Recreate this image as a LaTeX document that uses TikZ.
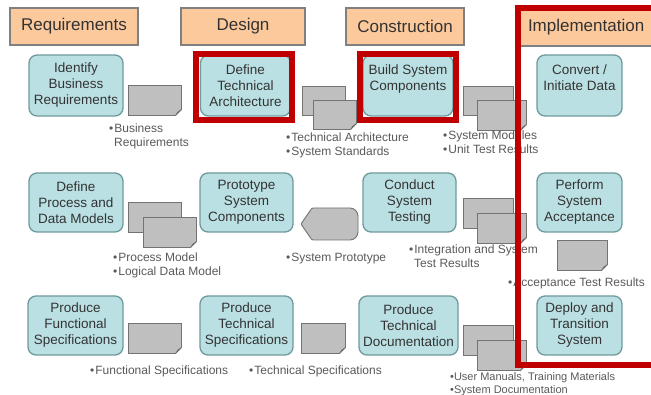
\documentclass[tikz,border=0pt]{standalone}
\usepackage{fontspec}
\setmainfont{Liberation Sans}
\definecolor{hdrfill}{HTML}{FBC99B}
\definecolor{hdrborder}{HTML}{808080}
\definecolor{taskfill}{HTML}{BBE0E3}
\definecolor{taskborder}{HTML}{6F9A9D}
\definecolor{docfill}{HTML}{BFBFBF}
\definecolor{docborder}{HTML}{737373}
\definecolor{foldfill}{HTML}{6A6A6A}
\definecolor{txt}{HTML}{333333}
\definecolor{notetxt}{HTML}{5A5A5A}
\definecolor{redline}{HTML}{C00000}
\newcommand\docico[5]{%
  \node[docbox, minimum width=#4pt, minimum height=#5pt] (#1) at (#2,#3) {};
  \begin{scope}[shift={(#1.south east)}]
    \fill[white] (-6,0.8) -- (0.8,0.8) -- (0.8,-6) -- cycle;
    \draw[docborder, line width=0.9pt] (-6,0) -- (0,-6);
    \fill[foldfill] (-6,0) .. controls (-4.5,-3.5) .. (0,-6) .. controls (-3,-3) .. (-6,0) -- cycle;
  \end{scope}}
\begin{document}
\begin{tikzpicture}[x=1pt,y=-1pt,
  hdr/.style={draw=hdrborder, line width=1.2pt, fill=hdrfill, inner sep=0pt, text=txt,
    font=\fontsize{17}{20}\selectfont},
  task/.style={draw=taskborder, line width=1.3pt, fill=taskfill, rounded corners=8pt, inner sep=0pt,
    align=center, text=txt, font=\fontsize{13.5}{16}\selectfont},
  docbox/.style={draw=docborder, line width=0.9pt, fill=docfill, inner sep=0pt},
  note/.style={anchor=base west, inner sep=0pt, text=notetxt, font=\fontsize{12}{14}\selectfont},
  smallnote/.style={note, font=\fontsize{11}{13}\selectfont},
  redframe/.style={draw=redline, line width=6pt}]
\useasboundingbox (0,0) rectangle (651,395);
\fill[white] (0,0) rectangle (651,395);

% headers
\node[hdr, minimum width=128pt, minimum height=37pt] (hreq) at (74,26.5) {Requirements};
\node[hdr, minimum width=124pt, minimum height=37pt] (hdes) at (243,26.5) {Design};
\node[hdr, minimum width=118pt, minimum height=37pt] (hcon) at (405,26.5) {Construction};
\node[hdr, minimum width=140pt, minimum height=37pt, text width=130pt, align=left] (himp) at (590,27.5) {\hspace{3pt}Implementation};

% row 1
\node[task, minimum width=94pt, minimum height=61pt] (t11) at (76,85.5) {Identify\\Business\\Requirements};
\node[task, minimum width=90pt, minimum height=61pt] (t12) at (245.5,85.5) {Define\\Technical\\Architecture};
\node[task, minimum width=90pt, minimum height=61pt] (t13) at (408,85.5) {Build System\\Components\\\mbox{}};
\node[task, minimum width=85pt, minimum height=61pt] (t14) at (579.5,85.5) {Convert /\\Initiate Data\\\mbox{}};

% row 2
\node[task, minimum width=94pt, minimum height=59pt] (t21) at (76,202.5) {Define\\Process and\\Data Models};
\node[task, minimum width=93pt, minimum height=59pt] (t22) at (246.5,202.5) {Prototype\\System\\Components};
\node[task, minimum width=93pt, minimum height=59pt] (t23) at (409.5,202.5) {Conduct\\System\\Testing};
\node[task, minimum width=85pt, minimum height=59pt] (t24) at (579.5,202.5) {Perform\\System\\Acceptance};

% row 3
\node[task, minimum width=95pt, minimum height=59pt] (t31) at (75.5,325.5) {Produce\\Functional\\Specifications};
\node[task, minimum width=93pt, minimum height=59pt] (t32) at (246.5,325.5) {Produce\\Technical\\Specifications};
\node[task, minimum width=99pt, minimum height=59pt] (t33) at (408.5,325.5) {Produce\\Technical\\Documentation};
\node[task, minimum width=85pt, minimum height=59pt] (t34) at (579.5,325.5) {Deploy and\\Transition\\System};

% documents
\docico{d1}{154.5}{100}{53}{30}
\docico{d2a}{323.5}{100.5}{43}{29}
\docico{d2b}{334.5}{114.5}{43}{29}
\docico{d3a}{488}{100.5}{50}{29}
\docico{d3b}{501.5}{115}{49}{30}
\docico{d4a}{154.5}{217}{53}{30}
\docico{d4b}{169.5}{232}{53}{30}
\docico{d5a}{488}{213}{50}{30}
\docico{d5b}{501.5}{228}{49}{30}
\docico{d6}{582}{255}{50}{30}
\docico{d7}{154.5}{338}{53}{30}
\docico{d8}{323}{338}{44}{30}
\docico{d9a}{488}{340}{50}{30}
\docico{d9b}{501.5}{355}{49}{30}

% system prototype (display shape)
\draw[docborder, line width=0.9pt, fill=docfill, rounded corners=1pt]
  (312,208) -- (348,208) [rounded corners=8pt] -- (358,208) -- (358,240) [rounded corners=1pt] -- (312,240) -- (301,224) -- cycle;

% notes
\node[note] (n1a) at (109,133) {•\hspace{1pt}Business};
\node[note] (n1b) at (114,147) {Requirements};
\node[note] (n2a) at (286,142) {•\hspace{1pt}Technical Architecture};
\node[note] (n2b) at (286,156) {•\hspace{1pt}System Standards};
\node[note] (n3a) at (443,140) {•\hspace{1pt}System Modules};
\node[note] (n3b) at (443,154) {•\hspace{1pt}Unit Test Results};
\node[note] (n4a) at (113,262) {•\hspace{1pt}Process Model};
\node[note] (n4b) at (113,276) {•\hspace{1pt}Logical Data Model};
\node[note] (n5) at (286,262) {•\hspace{1pt}System Prototype};
\node[note] (n6a) at (409,254) {•\hspace{1pt}Integration and System};
\node[note] (n6b) at (414,268) {Test Results};
\node[note] (n7) at (508,287) {•\hspace{1pt}Acceptance Test Results};
\node[note] (n8) at (90,375) {•\hspace{1pt}Functional Specifications};
\node[note] (n9) at (249,375) {•\hspace{1pt}Technical Specifications};
\node[smallnote] (n10a) at (450,381) {•User Manuals, Training Materials};
\node[smallnote] (n10b) at (450,394) {•System Documentation};

% red highlight frames
\draw[redframe] (196,54) rectangle (292,120);
\draw[redframe] (360,54) rectangle (455.5,120);
\draw[redframe] (665,8) -- (517.5,8) -- (517.5,365.5) -- (665,365.5);
\end{tikzpicture}
\end{document}
